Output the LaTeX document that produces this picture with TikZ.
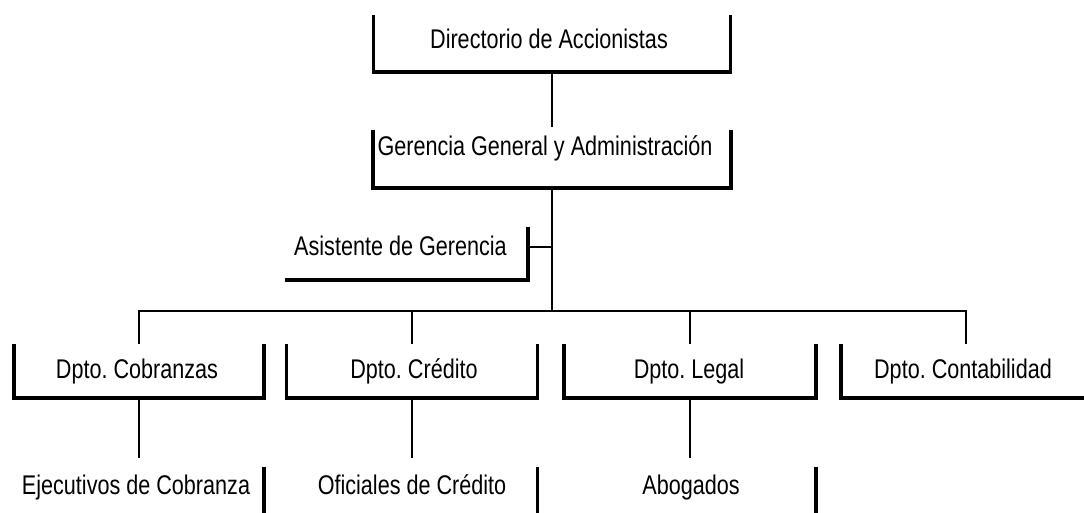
\documentclass[tikz,border=0pt]{standalone}
\usepackage{fontspec}
\setmainfont{Liberation Sans}[FakeStretch=0.8]
\frenchspacing
\begin{document}
\begin{tikzpicture}[x=1pt,y=-1pt,
  frame/.style={rectangle, inner sep=0pt, outer sep=0pt},
  boxline/.style={line width=3.4pt, line join=miter},
  conn/.style={line width=1.8pt},
  lbl/.style={anchor=base, inner sep=0pt, font=\fontsize{27}{32}\selectfont}]
\useasboundingbox (0,0) rectangle (1084,512);
\clip (0,0) rectangle (1084,512);
% boxes
\node[frame, minimum width=357pt, minimum height=57pt] (dir) at (552,43.5) {};
\node[lbl] (dirT) at (549,48) {Directorio de Accionistas};
\node[frame, minimum width=358pt, minimum height=58pt] (ger) at (552,159) {};
\node[lbl] (gerT) at (545,155) {Gerencia General y Administración};
\node[frame, minimum width=243pt, minimum height=53pt] (asi) at (406.5,253.5) {};
\node[lbl] (asiT) at (400.5,255) {Asistente de Gerencia};
\node[frame, minimum width=250pt, minimum height=54pt] (cob) at (139,371) {};
\node[lbl] (cobT) at (137,378) {Dpto. Cobranzas};
\node[frame, minimum width=251pt, minimum height=54pt] (cre) at (412,371) {};
\node[lbl] (creT) at (414,378) {Dpto. Crédito};
\node[frame, minimum width=252pt, minimum height=54pt] (leg) at (690,371) {};
\node[lbl] (legT) at (689,378) {Dpto. Legal};
\node[frame, minimum width=250pt, minimum height=54pt] (con) at (966,371) {};
\node[lbl] (conT) at (963,378) {Dpto. Contabilidad};
\node[frame, minimum width=250pt, minimum height=54pt] (eje) at (139,494) {};
\node[lbl] (ejeT) at (136,494) {Ejecutivos de Cobranza};
\node[frame, minimum width=251pt, minimum height=54pt] (ofi) at (412,494) {};
\node[lbl] (ofiT) at (412,494) {Oficiales de Crédito};
\node[frame, minimum width=252pt, minimum height=54pt] (abo) at (690,494) {};
\node[lbl] (aboT) at (691,494) {Abogados};
% frames
\foreach \n in {dir,ger,cob,cre,leg,con}
  \draw[boxline] (\n.north west) -- (\n.south west) -- (\n.south east) -- (\n.north east);
\draw[boxline] (asi.south west) -- (asi.south east) -- (asi.north east);
\foreach \n in {eje,ofi,abo}
  \draw[boxline] (\n.north east) -- (\n.south east);
% connectors
\coordinate (bus) at (552,311);
\draw[conn, shorten >=3pt] (dir.south) -- (ger.north);
\draw[conn] (ger.south) -- (ger.south |- bus);
\draw[conn] ([yshift=6.5pt]asi.east) -- ([yshift=6.5pt]asi.east -| ger.south);
\draw[conn] (cob.north) -- (cob.north |- bus) -- (con.north |- bus) -- (con.north);
\draw[conn] (cre.north) -- (cre.north |- bus);
\draw[conn] (leg.north) -- (leg.north |- bus);
\draw[conn, shorten >=9pt] (cob.south) -- (eje.north);
\draw[conn, shorten >=9pt] (cre.south) -- (ofi.north);
\draw[conn, shorten >=9pt] (leg.south) -- (abo.north);
\end{tikzpicture}
\end{document}
